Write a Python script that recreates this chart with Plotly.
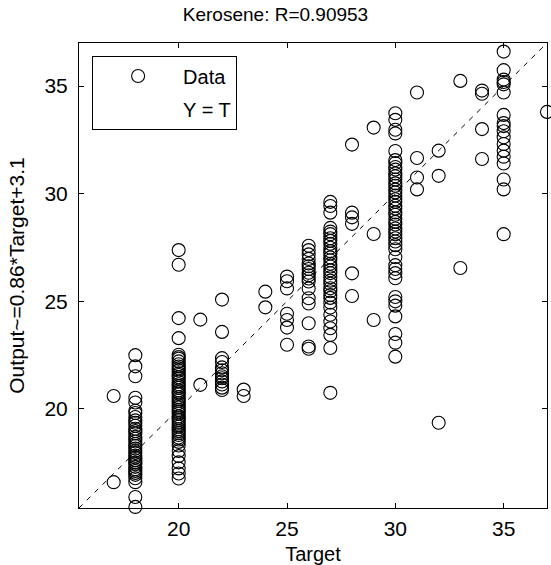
import plotly.graph_objects as go

# Outputs grouped by target value
t17 = [20.6, 16.6]
t18 = [22.5, 21.98, 21.52, 20.52, 20.3, 19.92, 19.81, 19.63, 19.47, 19.36, 19.22, 19.08, 18.97,
       18.86, 18.71, 18.62, 18.49, 18.37, 18.28, 18.16, 18.05, 17.96, 17.83, 17.74, 17.62, 17.51,
       17.43, 17.31, 17.2, 17.12, 17.03, 16.94, 16.78, 16.6, 15.91, 15.45]
t20 = [27.38, 26.7, 24.22, 23.29, 22.52, 22.41, 22.33, 22.21, 22.08, 21.97, 21.88, 21.79, 21.66,
       21.58, 21.47, 21.39, 21.27, 21.15, 21.06, 20.98, 20.86, 20.77, 20.69, 20.55, 20.46, 20.38,
       20.27, 20.16, 20.07, 19.96, 19.88, 19.79, 19.65, 19.57, 19.48, 19.36, 19.27, 19.18, 19.06,
       18.97, 18.88, 18.79, 18.67, 18.58, 18.47, 18.3, 18.05, 17.81, 17.52, 17.24, 17.0, 16.77]
t21 = [24.15, 21.12]
t22 = [25.08, 23.58, 22.36, 22.18, 21.93, 21.8, 21.66, 21.52, 21.43, 21.28, 21.14, 20.99, 20.88]
t23 = [20.9, 20.6]
t24 = [25.45, 24.72]
t25 = [26.15, 25.93, 25.6, 24.42, 24.13, 23.78, 22.98]
t26 = [27.58, 27.38, 27.18, 26.97, 26.76, 26.63, 26.5, 26.33, 26.21, 26.06, 25.92, 25.6, 25.14,
       24.9, 23.98, 22.9, 22.8]
t27 = [29.62, 29.43, 29.12, 28.41, 28.24, 28.12, 27.93, 27.81, 27.67, 27.49, 27.33, 27.22, 27.04,
       26.91, 26.74, 26.62, 26.44, 26.31, 26.12, 25.96, 25.82, 25.61, 25.47, 25.29, 25.16, 24.94,
       24.71, 24.38, 24.06, 23.75, 23.44, 22.83, 20.75]
t28 = [32.28, 29.12, 28.9, 28.6, 26.3, 25.25]
t29 = [33.07, 28.13, 24.13]
t30 = [33.74, 33.43, 32.97, 32.8, 31.98, 31.56, 31.42, 31.24, 31.12, 30.94, 30.81, 30.66, 30.48,
       30.37, 30.19, 30.06, 29.91, 29.74, 29.62, 29.44, 29.31, 29.13, 29.02, 28.84, 28.69, 28.57,
       28.38, 28.24, 28.11, 27.93, 27.78, 27.61, 27.42, 27.05, 26.68, 26.5, 26.31, 26.07, 25.2,
       25.0, 24.8, 24.3, 23.48, 23.08, 22.43]
t31 = [34.7, 31.66, 30.75, 30.2]
t32 = [32.0, 30.83, 19.36]
t33 = [35.24, 26.55]
t34 = [34.79, 34.64, 33.0, 31.61]
t35 = [36.6, 35.74, 35.3, 35.19, 35.08, 34.7, 33.66, 33.28, 33.14, 32.9, 32.62, 32.31, 32.0, 31.72,
       31.4, 30.66, 30.2, 28.12]
t37 = [33.8]

groups = [(17, t17), (18, t18), (20, t20), (21, t21), (22, t22), (23, t23), (24, t24), (25, t25),
          (26, t26), (27, t27), (28, t28), (29, t29), (30, t30), (31, t31), (32, t32), (33, t33),
          (34, t34), (35, t35), (37, t37)]

targets = []
outputs = []
for t, vals in groups:
    targets += [t] * len(vals)
    outputs += vals

axis_min, axis_max = 15.4, 37.0
tick_vals = [20, 25, 30, 35]
title_text = "Kerosene: R=0.90953"
x_label = "Target"
y_label = "Output~=0.86*Target+3.1"

FONT = "Liberation Sans, Arial, sans-serif"

fig = go.Figure()
fig.add_trace(go.Scatter(
    x=targets, y=outputs, mode="markers", name="Data", legendgroup="a",
    marker=dict(symbol="circle-open", size=13, color="black", line=dict(width=1.1, color="black")),
    cliponaxis=False,
))
fig.add_trace(go.Scatter(
    x=[axis_min, axis_max], y=[axis_min, axis_max], mode="lines", name="Y = T",
    line=dict(color="black", width=1, dash="5px,6px"), showlegend=False,
))
# legend entry for the fit line (drawn without a visible key, as in the reference)
fig.add_trace(go.Scatter(
    x=[None], y=[None], mode="lines", name="Y = T", legendgroup="b",
    line=dict(color="rgba(0,0,0,0)", width=1),
))

axis_common = dict(
    range=[axis_min, axis_max], tickvals=tick_vals, ticks="inside", ticklen=5,
    tickcolor="black", showline=True, linecolor="black", linewidth=1, mirror="allticks",
    showgrid=False, zeroline=False, tickfont=dict(family=FONT, size=21, color="black"),
)

fig.update_layout(
    width=551, height=565,
    margin=dict(l=79, r=4, t=43, b=57),
    paper_bgcolor="white", plot_bgcolor="white",
    title=dict(text=title_text, x=0.5, xanchor="center", y=0.975, yanchor="middle",
               font=dict(family=FONT, size=19, color="black")),
    xaxis=dict(axis_common, ticklabelstandoff=2,
               title=dict(text=x_label, font=dict(family=FONT, size=20, color="black"), standoff=7)),
    yaxis=dict(axis_common, ticklabelstandoff=6,
               title=dict(text=y_label, font=dict(family=FONT, size=21, color="black"), standoff=14)),
    legend=dict(x=0.028, y=0.973, xanchor="left", yanchor="top",
                bordercolor="black", borderwidth=1, bgcolor="white",
                font=dict(family=FONT, size=20, color="black"), itemwidth=80,
                traceorder="grouped", tracegroupgap=4),
    showlegend=True,
)

fig.write_html("out.html")
